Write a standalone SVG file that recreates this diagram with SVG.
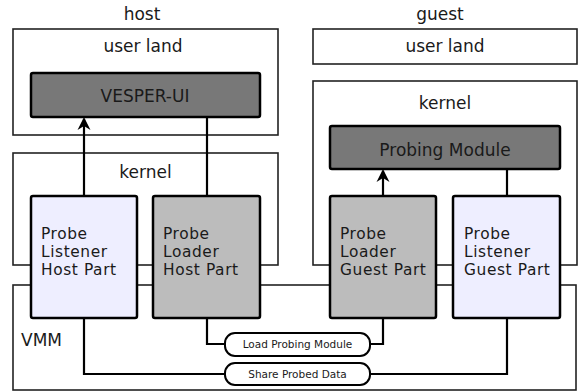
<svg xmlns="http://www.w3.org/2000/svg" width="580" height="392" viewBox="0 0 580 392">
<style>
  .t { font-family: "DejaVu Sans", Verdana, sans-serif; fill: #1a1a1a; }
  .big { font-size: 17px; }
  .part { font-size: 15.4px; letter-spacing: 0.6px; }
  .small { font-size: 10.5px; }
  .c { text-anchor: middle; }
  .container { fill: #fff; stroke: #222; stroke-width: 1.6; }
  .node { stroke: #000; stroke-width: 2.5; }
  .dark { fill: #787878; }
  .gray { fill: #bcbcbc; }
  .lav { fill: #eeeeff; }
  .conn { fill: none; stroke: #000; stroke-width: 2.2; }
  .pill { fill: #fff; stroke: #000; stroke-width: 2; }
</style>
<defs>
  <marker id="arr" viewBox="0 0 14 14" refX="12" refY="7" markerWidth="14" markerHeight="14" markerUnits="userSpaceOnUse" orient="auto">
    <path d="M14,7 L1,0.5 L5,7 L1,13.5 Z" fill="#000"/>
  </marker>
</defs>
<rect width="580" height="392" fill="#fff"/>

<g id="labels">
  <text class="t big c" x="142" y="20">host</text>
  <text class="t big c" x="440" y="20">guest</text>
</g>

<g id="host-userland">
  <rect class="container" x="13" y="29" width="265" height="106"/>
  <text class="t big c" x="143" y="52">user land</text>
</g>
<g id="host-kernel">
  <rect class="container" x="13" y="153" width="265" height="112"/>
  <text class="t big c" x="145.5" y="178">kernel</text>
</g>
<g id="guest-userland">
  <rect class="container" x="313" y="29" width="264" height="35"/>
  <text class="t big c" x="445" y="52">user land</text>
</g>
<g id="guest-kernel">
  <rect class="container" x="313" y="81" width="264" height="184"/>
  <text class="t big c" x="445" y="109">kernel</text>
</g>
<g id="vmm">
  <rect class="container" x="13" y="285" width="563" height="105"/>
  <text class="t big" x="21" y="346">VMM</text>
</g>

<g id="connectors">
  <line class="conn" x1="84" y1="196" x2="84" y2="119" marker-end="url(#arr)"/>
  <line class="conn" x1="207" y1="117" x2="207" y2="196"/>
  <line class="conn" x1="383" y1="196" x2="383" y2="171" marker-end="url(#arr)"/>
  <line class="conn" x1="507" y1="169" x2="507" y2="196"/>
  <polyline class="conn" points="207,318 207,344 226,344"/>
  <polyline class="conn" points="369,344 383,344 383,318"/>
  <polyline class="conn" points="84,318 84,374 226,374"/>
  <polyline class="conn" points="369,374 507,374 507,318"/>
</g>

<g id="vesper-ui">
  <rect class="node dark" x="31" y="73" width="229" height="44" rx="2"/>
  <text class="t big c" x="145" y="102">VESPER-UI</text>
</g>
<g id="probing-module">
  <rect class="node dark" x="330" y="126" width="230" height="43" rx="2"/>
  <text class="t big c" x="445" y="156">Probing Module</text>
</g>

<g id="probe-listener-host">
  <rect class="node lav" x="31" y="196" width="106" height="122" rx="2"/>
  <text class="t part" x="41" y="239">Probe<tspan x="41" dy="18">Listener</tspan><tspan x="41" dy="18">Host Part</tspan></text>
</g>
<g id="probe-loader-host">
  <rect class="node gray" x="153" y="196" width="107" height="122" rx="2"/>
  <text class="t part" x="163" y="239">Probe<tspan x="163" dy="18">Loader</tspan><tspan x="163" dy="18">Host Part</tspan></text>
</g>
<g id="probe-loader-guest">
  <rect class="node gray" x="330" y="196" width="106" height="122" rx="2"/>
  <text class="t part" x="340" y="239">Probe<tspan x="340" dy="18">Loader</tspan><tspan x="340" dy="18">Guest Part</tspan></text>
</g>
<g id="probe-listener-guest">
  <rect class="node lav" x="453" y="196" width="107" height="122" rx="2"/>
  <text class="t part" x="464" y="239">Probe<tspan x="464" dy="18">Listener</tspan><tspan x="464" dy="18">Guest Part</tspan></text>
</g>

<g id="load-probing-module">
  <rect class="pill" x="225" y="333" width="145" height="23" rx="10" ry="10"/>
  <text class="t small c" x="297.5" y="348">Load Probing Module</text>
</g>
<g id="share-probed-data">
  <rect class="pill" x="225" y="363" width="145" height="22" rx="10" ry="10"/>
  <text class="t small c" x="297.5" y="378">Share Probed Data</text>
</g>
</svg>
